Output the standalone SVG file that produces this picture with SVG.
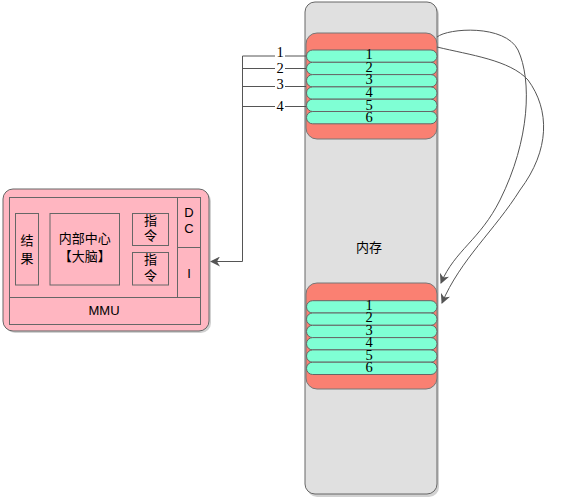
<svg xmlns="http://www.w3.org/2000/svg" width="563" height="498" viewBox="0 0 563 498">
<defs>
<marker id="ah" markerWidth="10" markerHeight="10" refX="9" refY="5" orient="auto" markerUnits="userSpaceOnUse">
<path d="M0,0 L10,5 L0,10 L3,5 Z" fill="#555"/>
</marker>
<style>
.box{stroke:#666;stroke-width:1}
.shadow{fill:#000;opacity:0.18}
.row{fill:#7FFFD4;stroke:#666;stroke-width:1}
.blk{fill:#FA8072;stroke:#777;stroke-width:1}
.pink{fill:#FFB6C1;stroke:#666;stroke-width:1}
.num{font-family:"Liberation Serif","DejaVu Serif",serif;font-size:14.5px;fill:#000;text-anchor:middle}
.cjk{font-family:"Liberation Sans","Noto Sans CJK SC",sans-serif;font-size:13px;fill:#000;text-anchor:middle}
.con{fill:none;stroke:#555;stroke-width:1}
</style>
</defs>
<rect width="563" height="498" fill="#fff"/>

<g id="memory">
<rect class="shadow" x="307" y="4" width="132" height="493" rx="10"/>
<rect x="305" y="2" width="132" height="492" rx="10" fill="#E0E0E0" class="box"/>
<text class="cjk" x="369" y="252">内存</text>
</g>

<g id="block-top">
<rect class="blk" x="306" y="33" width="131" height="106" rx="11"/>
<rect class="row" x="306.5" y="50" width="130.5" height="12.3" rx="6.1"/>
<rect class="row" x="306.5" y="62.3" width="130.5" height="12.3" rx="6.1"/>
<rect class="row" x="306.5" y="74.6" width="130.5" height="12.3" rx="6.1"/>
<rect class="row" x="306.5" y="86.9" width="130.5" height="12.3" rx="6.1"/>
<rect class="row" x="306.5" y="99.2" width="130.5" height="12.3" rx="6.1"/>
<rect class="row" x="306.5" y="111.5" width="130.5" height="12.3" rx="6.1"/>
<text class="num" x="369" y="59">1</text>
<text class="num" x="369" y="71.6">2</text>
<text class="num" x="369" y="84.2">3</text>
<text class="num" x="369" y="96.6">4</text>
<text class="num" x="369" y="110">5</text>
<text class="num" x="369" y="122.2">6</text>
</g>

<g id="block-bottom">
<rect class="blk" x="306" y="283" width="131" height="106" rx="11"/>
<rect class="row" x="306.5" y="300.7" width="130.5" height="12.3" rx="6.1"/>
<rect class="row" x="306.5" y="313" width="130.5" height="12.3" rx="6.1"/>
<rect class="row" x="306.5" y="325.3" width="130.5" height="12.3" rx="6.1"/>
<rect class="row" x="306.5" y="337.6" width="130.5" height="12.3" rx="6.1"/>
<rect class="row" x="306.5" y="349.9" width="130.5" height="12.3" rx="6.1"/>
<rect class="row" x="306.5" y="362.2" width="130.5" height="12.3" rx="6.1"/>
<text class="num" x="369" y="310">1</text>
<text class="num" x="369" y="322.2">2</text>
<text class="num" x="369" y="335">3</text>
<text class="num" x="369" y="347.2">4</text>
<text class="num" x="369" y="360">5</text>
<text class="num" x="369" y="372.2">6</text>
</g>

<g id="mmu-unit">
<rect class="shadow" x="5" y="191" width="206" height="142" rx="10"/>
<rect class="pink" x="3" y="189" width="206" height="142" rx="10"/>
<rect class="pink" x="9.5" y="197.5" width="191" height="127"/>
<line class="box" x1="9.5" y1="297.5" x2="200.5" y2="297.5"/>
<line class="box" x1="177.5" y1="197.5" x2="177.5" y2="297.5"/>
<line class="box" x1="177.5" y1="247.5" x2="200.5" y2="247.5"/>
<text class="cjk" x="104" y="315">MMU</text>
<text class="cjk" x="189" y="217">D</text>
<text class="cjk" x="189" y="233">C</text>
<text class="cjk" x="189" y="278">I</text>
</g>
<g id="result">
<rect class="pink" x="15.5" y="213.5" width="23" height="71.5"/>
<text class="cjk" x="27" y="245">结</text>
<text class="cjk" x="27" y="263">果</text>
</g>
<g id="brain">
<rect class="pink" x="50" y="213.5" width="69.5" height="71.5"/>
<text class="cjk" x="84.7" y="243">内部中心</text>
<text class="cjk" x="84.7" y="261">【大脑】</text>
</g>
<g id="instr1">
<rect class="pink" x="132.5" y="213.5" width="36" height="32"/>
<text class="cjk" x="150.5" y="225">指</text>
<text class="cjk" x="150.5" y="240">令</text>
</g>
<g id="instr2">
<rect class="pink" x="132.5" y="252.5" width="36" height="32.5"/>
<text class="cjk" x="150.5" y="264">指</text>
<text class="cjk" x="150.5" y="280">令</text>
</g>

<g id="connectors">
<path class="con" d="M306,56 H242.5 V261.5 H211" marker-end="url(#ah)"/>
<path class="con" d="M306,68.5 H242.5"/>
<path class="con" d="M306,86.5 H242.5"/>
<path class="con" d="M306,106.5 H242.5"/>
<rect x="275" y="46" width="10" height="12" fill="#fff"/>
<rect x="275" y="62" width="10" height="12" fill="#fff"/>
<rect x="275" y="78" width="10" height="12" fill="#fff"/>
<rect x="275" y="100" width="10" height="12" fill="#fff"/>
<text class="num" x="280" y="57">1</text>
<text class="num" x="280" y="73">2</text>
<text class="num" x="280" y="89.2">3</text>
<text class="num" x="280" y="111">4</text>
<path class="con" d="M437,37 C448,28 505,24 518,50 C532,80 530,140 500,200 C480,240 455,250 441,283" marker-end="url(#ah)"/>
<path class="con" d="M437,47 C470,55 510,60 528,80 C550,110 550,150 520,190 C495,230 460,260 442,303" marker-end="url(#ah)"/>
</g>
</svg>
